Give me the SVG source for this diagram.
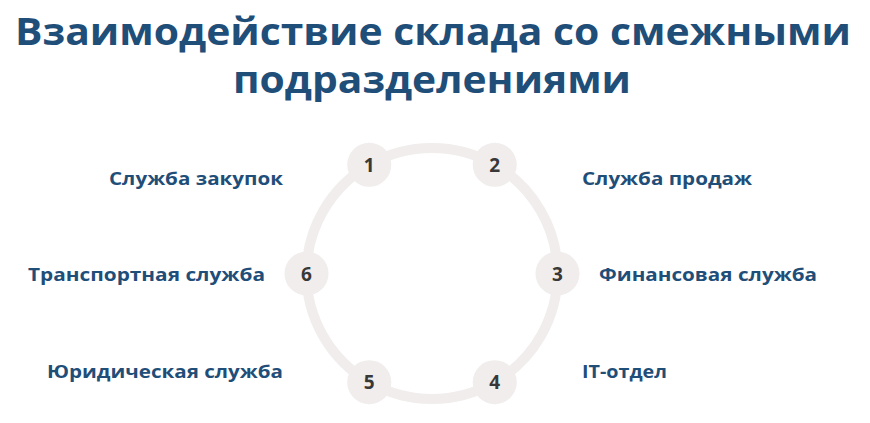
<svg xmlns="http://www.w3.org/2000/svg" width="870" height="423" viewBox="0 0 870 423">
<style>
.title{font-family:"Open Sans","Liberation Sans",sans-serif;font-weight:700;font-size:38px;fill:#1f4e79}
.lbl{font-family:"Open Sans","Liberation Sans",sans-serif;font-weight:700;font-size:18.5px;fill:#1f4e79}
.num{font-family:"Open Sans","Liberation Sans",sans-serif;font-weight:700;font-size:19px;fill:#383838;text-anchor:middle}
.ring{fill:none;stroke:#f0edec;stroke-width:10}
.dot{fill:#f0edec}
</style>
<rect width="870" height="423" fill="#ffffff"/>
<g id="title">
<text class="title" x="15" y="45" textLength="836" lengthAdjust="spacingAndGlyphs">Взаимодействие склада со смежными</text>
<text class="title" x="233" y="93" textLength="398" lengthAdjust="spacingAndGlyphs">подразделениями</text>
</g>
<g id="connectors">
<path class="ring" d="M557.5 273.5 A125.5 125.5 0 0 1 494.75 382.2"/>
<path class="ring" d="M494.75 382.2 A125.5 125.5 0 0 1 369.25 382.2"/>
<path class="ring" d="M369.25 382.2 A125.5 125.5 0 0 1 306.5 273.5"/>
<path class="ring" d="M306.5 273.5 A125.5 125.5 0 0 1 369.25 164.8"/>
<path class="ring" d="M369.25 164.8 A125.5 125.5 0 0 1 494.75 164.8"/>
<path class="ring" d="M494.75 164.8 A125.5 125.5 0 0 1 557.5 273.5"/>
</g>
<g id="node1">
<circle class="dot" cx="369.25" cy="164.8" r="22"/>
<text class="num" x="369.25" y="171.8">1</text>
<text class="lbl" x="109" y="185" textLength="174" lengthAdjust="spacingAndGlyphs">Служба закупок</text>
</g>
<g id="node2">
<circle class="dot" cx="494.75" cy="164.8" r="22"/>
<text class="num" x="494.75" y="171.8">2</text>
<text class="lbl" x="582" y="185" textLength="170" lengthAdjust="spacingAndGlyphs">Служба продаж</text>
</g>
<g id="node3">
<circle class="dot" cx="557.5" cy="273.5" r="22"/>
<text class="num" x="557.5" y="280.5">3</text>
<text class="lbl" x="599" y="281" textLength="218" lengthAdjust="spacingAndGlyphs">Финансовая служба</text>
</g>
<g id="node4">
<circle class="dot" cx="494.75" cy="382.2" r="22"/>
<text class="num" x="494.75" y="389.2">4</text>
<text class="lbl" x="582" y="377.5" textLength="85" lengthAdjust="spacingAndGlyphs">IT-отдел</text>
</g>
<g id="node5">
<circle class="dot" cx="369.25" cy="382.2" r="22"/>
<text class="num" x="369.25" y="389.2">5</text>
<text class="lbl" x="47" y="377.5" textLength="236" lengthAdjust="spacingAndGlyphs">Юридическая служба</text>
</g>
<g id="node6">
<circle class="dot" cx="306.5" cy="273.5" r="22"/>
<text class="num" x="306.5" y="280.5">6</text>
<text class="lbl" x="28" y="281" textLength="237" lengthAdjust="spacingAndGlyphs">Транспортная служба</text>
</g>
</svg>
